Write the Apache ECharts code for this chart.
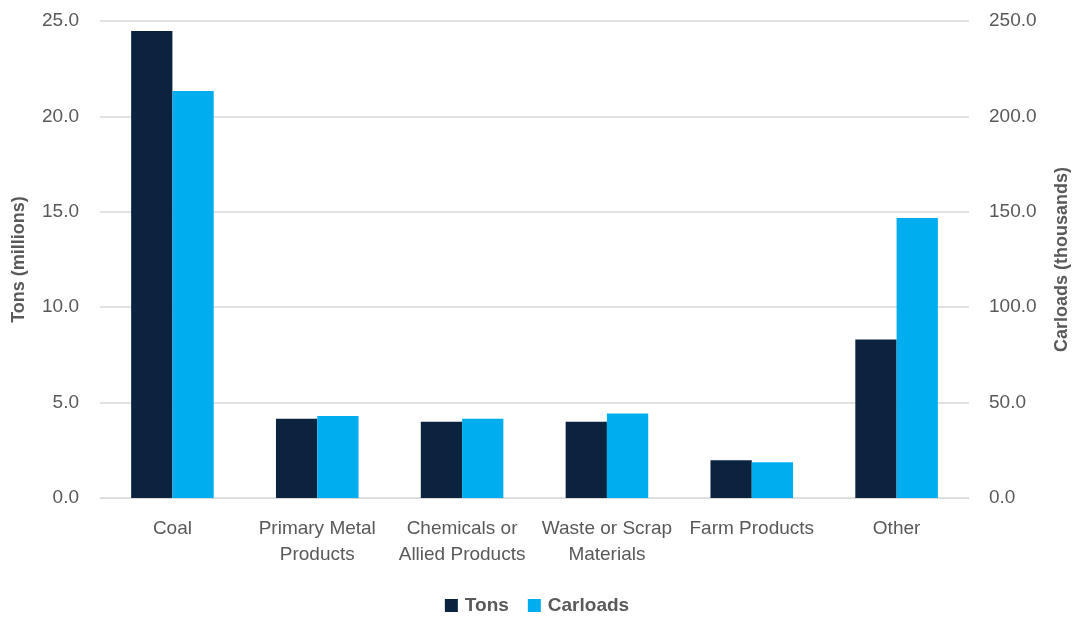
<!DOCTYPE html>
<html>
<head>
<meta charset="utf-8">
<script src="https://cdn.jsdelivr.net/npm/echarts@6/dist/echarts.min.js"></script>
<style>
  html, body { margin: 0; padding: 0; background: #fff; }
  #chart { width: 1074px; height: 620px; }
</style>
</head>
<body>
<div id="chart"></div>
<script>
// Commodity groups on the category axis
const categories = ['Coal', 'Primary Metal\nProducts', 'Chemicals or\nAllied Products', 'Waste or Scrap\nMaterials', 'Farm Products', 'Other'];
// Tons (millions), left axis
const tons = [24.47, 4.16, 4.00, 3.99, 1.98, 8.31];
// Carloads (thousands), right axis
const carloads = [213.3, 43.0, 41.6, 44.3, 18.7, 146.7];

const textColor = '#595959';
const font = 'Liberation Sans, Arial, sans-serif';

const chart = echarts.init(document.getElementById('chart'));
chart.setOption({
  animation: false,
  textStyle: { fontFamily: font },
  grid: { left: 100, right: 105, top: 21, bottom: 122, containLabel: false, outerBoundsMode: 'none' },
  legend: {
    data: ['Tons', 'Carloads'],
    bottom: 0,
    left: 'center',
    icon: 'rect',
    itemWidth: 13,
    itemHeight: 13,
    itemGap: 19,
    textStyle: { color: textColor, fontSize: 19, fontWeight: 'bold', fontFamily: font, padding: [0, 0, 0, 2] }
  },
  xAxis: {
    type: 'category',
    data: categories,
    axisLine: { show: true, lineStyle: { color: '#d9d9d9', width: 1 } },
    axisTick: { show: false },
    axisLabel: { color: textColor, fontSize: 19, lineHeight: 26, margin: 18, interval: 0 }
  },
  yAxis: [
    {
      type: 'value',
      min: 0, max: 25, interval: 5,
      name: 'Tons (millions)',
      nameLocation: 'middle',
      nameGap: 72,
      nameRotate: 90,
      nameTextStyle: { color: textColor, fontSize: 18, fontWeight: 'bold' },
      axisLabel: { color: textColor, fontSize: 19, margin: 21, formatter: v => v.toFixed(1) },
      axisLine: { show: false },
      axisTick: { show: false },
      splitLine: { lineStyle: { color: '#d9d9d9', width: 1.5 } }
    },
    {
      type: 'value',
      min: 0, max: 250, interval: 50,
      name: 'Carloads (thousands)',
      nameLocation: 'middle',
      nameGap: 84,
      nameRotate: 90,
      nameTextStyle: { color: textColor, fontSize: 18, fontWeight: 'bold' },
      axisLabel: { color: textColor, fontSize: 19, margin: 20, formatter: v => v.toFixed(1) },
      axisLine: { show: false },
      axisTick: { show: false },
      splitLine: { show: false }
    }
  ],
  series: [
    {
      name: 'Tons',
      type: 'bar',
      yAxisIndex: 0,
      data: tons,
      barGap: '0%',
      barCategoryGap: '43%',
      itemStyle: { color: '#0c2340' }
    },
    {
      name: 'Carloads',
      type: 'bar',
      yAxisIndex: 1,
      data: carloads,
      barGap: '0%',
      barCategoryGap: '43%',
      itemStyle: { color: '#00aeef' }
    }
  ]
});
</script>
</body>
</html>
